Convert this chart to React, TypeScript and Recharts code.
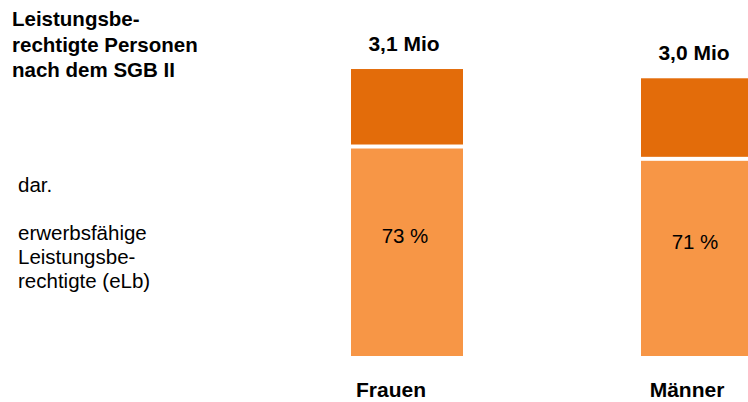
import { Bar, BarChart, LabelList, XAxis, YAxis } from "recharts";

const categories = ["Frauen", "Männer"];
const totals = [3.1, 3.0]; // Mio Leistungsberechtigte
const elbShare = [73, 71]; // % erwerbsfähige Leistungsberechtigte
const totalLabels = ["3,1 Mio", "3,0 Mio"];

const titleLines = ["Leistungsbe-", "rechtigte Personen", "nach dem SGB II"];
const noteLines = ["dar.", "", "erwerbsfähige", "Leistungsbe-", "rechtigte (eLb)"];

const DARK = "#E36C0A";
const LIGHT = "#F79646";
const FONT = "'Liberation Sans', Arial, Helvetica, sans-serif";

const data = categories.map((name, i) => {
  const elb = (totals[i] * elbShare[i]) / 100;
  return { name, elb, rest: totals[i] - elb, idx: i };
});

// white seam between the two segments
const LightShape = (p: any) => (
  <rect x={p.x} y={p.y + 2} width={p.width} height={Math.max(p.height - 2, 0)} fill={LIGHT} />
);
const DarkShape = (p: any) => (
  <rect x={p.x} y={p.y} width={p.width} height={Math.max(p.height - 2, 0)} fill={DARK} />
);

const pctLabel = (p: any) => (
  <text
    x={p.x + p.width / 2 - 2}
    y={p.y + p.height / 2 - 8}
    textAnchor="middle"
    fontSize={20.5}
    fontFamily={FONT}
    fill="#000"
  >
    {`${elbShare[p.index]} %`}
  </text>
);

const totalLabel = (p: any) => (
  <text
    x={p.x + p.width / 2 - 3}
    y={p.y - 18.5}
    textAnchor="middle"
    fontSize={21}
    fontWeight="bold"
    fontFamily={FONT}
    fill="#000"
  >
    {totalLabels[p.index]}
  </text>
);

const tickNudge = [-16, -10];
const CatTick = (p: any) => (
  <text
    x={p.x + (tickNudge[p.index] ?? 0)}
    y={p.y + 33}
    textAnchor="middle"
    fontSize={21}
    fontWeight="bold"
    fontFamily={FONT}
    fill="#000"
  >
    {p.payload.value}
  </text>
);

export default function App() {
  return (
    <div
      style={{
        position: "absolute",
        left: 0,
        top: 0,
        width: 748,
        height: 402,
        overflow: "hidden",
        background: "#fff",
        fontFamily: FONT,
      }}
    >
      <div
        style={{
          position: "absolute",
          left: 12,
          top: 6,
          fontSize: 20.5,
          fontWeight: "bold",
          lineHeight: "25.5px",
          whiteSpace: "pre",
        }}
      >
        {titleLines.join("\n")}
      </div>
      <div
        style={{
          position: "absolute",
          left: 18,
          top: 173,
          fontSize: 20.5,
          lineHeight: "24px",
          whiteSpace: "pre",
        }}
      >
        {noteLines.join("\n")}
      </div>
      <BarChart
        width={842}
        height={402}
        data={data}
        barSize={112}
        margin={{ top: 32, right: 0, bottom: 16, left: 262 }}
        style={{ position: "absolute", left: 0, top: 0 }}
      >
        <XAxis
          dataKey="name"
          axisLine={false}
          tickLine={false}
          height={30}
          tick={<CatTick />}
          interval={0}
        />
        <YAxis hide domain={[0, 3.5]} />
        <Bar dataKey="elb" stackId="a" shape={<LightShape />} isAnimationActive={false}>
          <LabelList dataKey="elb" content={pctLabel} />
        </Bar>
        <Bar dataKey="rest" stackId="a" shape={<DarkShape />} isAnimationActive={false}>
          <LabelList dataKey="rest" content={totalLabel} />
        </Bar>
      </BarChart>
    </div>
  );
}
